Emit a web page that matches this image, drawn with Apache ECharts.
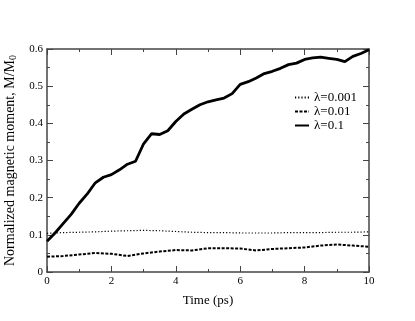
<!DOCTYPE html>
<html>
<head>
<meta charset="utf-8">
<script src="https://cdn.jsdelivr.net/npm/echarts@6/dist/echarts.min.js"></script>
<style>
  html, body { margin: 0; padding: 0; background: #fff; }
  #chart { width: 415px; height: 321px; }
</style>
</head>
<body>
<div id="chart"></div>
<script>
  // time points (ps)
  const timeFine = [0,0.25,0.5,0.75,1,1.25,1.5,1.75,2,2.25,2.5,2.75,3,3.25,3.5,3.75,4,4.25,4.5,4.75,5,
    5.25,5.5,5.75,6,6.25,6.5,6.75,7,7.25,7.5,7.75,8,8.25,8.5,8.75,9,9.25,9.5,9.75,10]
  const timeCoarse = [0,0.5,1,1.5,2,2.5,3,3.5,4,4.5,5,5.5,6,6.5,7,7.5,8,8.5,9,9.5,10]

  // normalized moment M/M0
  const lam0001 = [0.104,0.106,0.107,0.108,0.110,0.111,0.112,0.111,0.109,0.107,0.106,
    0.106,0.105,0.105,0.105,0.106,0.106,0.106,0.107,0.107,0.108]
  const lam001 = [0.041,0.043,0.047,0.051,0.049,0.043,0.050,0.055,0.059,0.058,0.064,
    0.064,0.063,0.058,0.062,0.064,0.066,0.071,0.074,0.071,0.068]
  const lam01 = [0.083,0.105,0.130,0.155,0.185,0.210,0.240,0.255,0.262,0.275,0.290,0.298,0.345,
    0.372,0.370,0.380,0.405,0.425,0.438,0.450,0.458,0.463,0.468,0.480,0.505,0.512,0.522,
    0.534,0.540,0.548,0.558,0.562,0.572,0.576,0.578,0.575,0.572,0.566,0.580,0.588,0.598]

  const xTicks = [0,2,4,6,8,10]
  const yTicks = [0,0.1,0.2,0.3,0.4,0.5,0.6]

  function pairs(t, v){
    return t.map(function(x, i){ return [x, v[i]] })
  }

  const font = 'Liberation Serif'
  const axisCol = '#444'

  let myChart = echarts.init(document.getElementById('chart'))

  const baseX = {
    type: 'value', min: 0, max: 10, interval: 2,
    axisLine: { show: true, onZero: false, lineStyle: { color: axisCol, width: 1.5 } },
    axisTick: { show: true, inside: true, length: 6, lineStyle: { color: axisCol } },
    minorTick: { show: true, splitNumber: 2, length: 3, lineStyle: { color: axisCol } },
    splitLine: { show: false }
  }
  const baseY = {
    type: 'value', min: 0, max: 0.6, interval: 0.1,
    axisLine: { show: true, onZero: false, lineStyle: { color: axisCol, width: 1.5 } },
    axisTick: { show: true, inside: true, length: 6, lineStyle: { color: axisCol } },
    minorTick: { show: true, splitNumber: 2, length: 3, lineStyle: { color: axisCol } },
    splitLine: { show: false }
  }

  let option = {
    animation: false,
    backgroundColor: '#fff',
    textStyle: { fontFamily: font },
    grid: { left: 47, right: 46, top: 49, bottom: 49, outerBoundsMode: 'none' },
    legend: {
      orient: 'vertical',
      left: 289, top: 86,
      itemWidth: 14, itemHeight: 10, itemGap: 1,
      itemStyle: { opacity: 0 },
      textStyle: { fontFamily: font, fontSize: 13, lineHeight: 11, color: '#000' },
      data: ['λ=0.001', 'λ=0.01', 'λ=0.1']
    },
    xAxis: [
      Object.assign({}, baseX, {
        position: 'bottom',
        name: 'Time (ps)', nameLocation: 'middle', nameGap: 22,
        nameTextStyle: { fontFamily: font, fontSize: 13, color: '#000' },
        axisLabel: { fontFamily: font, fontSize: 11, color: '#000', margin: 4,
          formatter: function(v){ return xTicks.indexOf(v) >= 0 ? String(v) : '' } }
      }),
      Object.assign({}, baseX, { position: 'top', axisLabel: { show: false } })
    ],
    yAxis: [
      Object.assign({}, baseY, {
        position: 'left',
        name: '{a|Normalized magnetic moment, M/M}{s|0}',
        nameLocation: 'middle', nameGap: 29,
        nameTextStyle: {
          rich: {
            a: { fontFamily: font, fontSize: 14, color: '#000' },
            s: { fontFamily: font, fontSize: 10, color: '#000', verticalAlign: 'bottom', padding: [6, 0, 0, 0] }
          }
        },
        axisLabel: { fontFamily: font, fontSize: 11, color: '#000', margin: 4,
          formatter: function(v){
            const k = yTicks.findIndex(function(t){ return Math.abs(t - v) < 1e-9 })
            return k >= 0 ? (k === 0 ? '0' : yTicks[k].toFixed(1)) : ''
          } }
      }),
      Object.assign({}, baseY, { position: 'right', axisLabel: { show: false } })
    ],
    series: [
      {
        name: 'λ=0.001', type: 'line', symbol: 'none',
        data: pairs(timeCoarse, lam0001),
        lineStyle: { color: '#000', width: 1.2, type: [1.2, 2] },
        itemStyle: { color: '#000' }
      },
      {
        name: 'λ=0.01', type: 'line', symbol: 'none',
        data: pairs(timeCoarse, lam001),
        lineStyle: { color: '#000', width: 2, type: [3, 1.5] },
        itemStyle: { color: '#000' }
      },
      {
        name: 'λ=0.1', type: 'line', symbol: 'none',
        data: pairs(timeFine, lam01),
        lineStyle: { color: '#000', width: 2.8 },
        itemStyle: { color: '#000' }
      }
    ]
  }

  myChart.setOption(option)
</script>
</body>
</html>
